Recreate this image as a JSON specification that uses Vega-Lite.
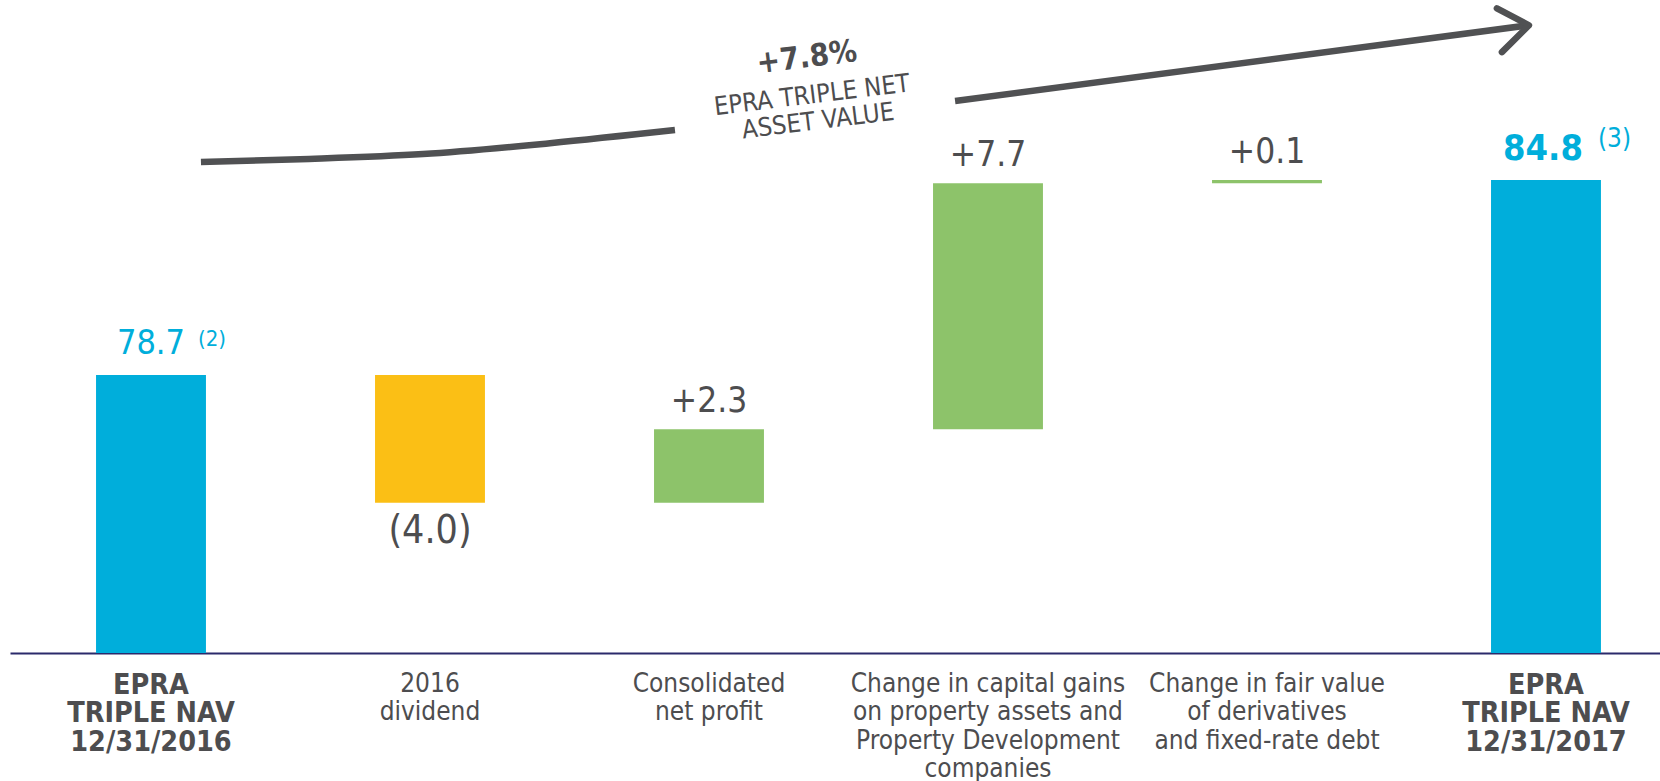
{
  "$schema": "https://vega.github.io/schema/vega-lite/v6.json",
  "width": 1650,
  "height": 653,
  "autosize": {"type": "none"},
  "padding": {"left": 10, "top": 0, "right": 0, "bottom": 128},
  "background": "white",
  "config": {"view": {"stroke": null}, "font": "Liberation Sans Narrow, DejaVu Sans Condensed, Roboto, sans-serif"},
  "datasets": {
    "bars": [
      {"cat": "EPRA|TRIPLE NAV|12/31/2016", "lo": 0, "hi": 78.7, "kind": "total", "lbl": "78.7", "sup": "(2)", "which": "first"},
      {"cat": "2016|dividend", "lo": 74.7, "hi": 78.7, "kind": "decrease", "lbl": "(4.0)", "sup": "", "which": "mid"},
      {"cat": "Consolidated|net profit", "lo": 74.7, "hi": 77.0, "kind": "increase", "lbl": "+2.3", "sup": "", "which": "mid"},
      {"cat": "Change in capital gains|on property assets and|Property Development|companies", "lo": 77.0, "hi": 84.7, "kind": "increase", "lbl": "+7.7", "sup": "", "which": "mid"},
      {"cat": "Change in fair value|of derivatives|and fixed-rate debt", "lo": 84.7, "hi": 84.8, "kind": "increase", "lbl": "+0.1", "sup": "", "which": "mid"},
      {"cat": "EPRA|TRIPLE NAV|12/31/2017", "lo": 0, "hi": 84.8, "kind": "total", "lbl": "84.8", "sup": "(3)", "which": "last"}
    ],
    "arrow": [
      {"seg": "a", "ord": 1, "ax": 0.179, "ay": 85.36},
      {"seg": "a", "ord": 2, "ax": 0.534, "ay": 85.45},
      {"seg": "a", "ord": 3, "ax": 0.975, "ay": 85.61},
      {"seg": "a", "ord": 4, "ax": 1.43, "ay": 85.95},
      {"seg": "a", "ord": 5, "ax": 1.878, "ay": 86.36},
      {"seg": "b", "ord": 1, "ax": 2.882, "ay": 87.27},
      {"seg": "b", "ord": 2, "ax": 4.939, "ay": 89.64},
      {"seg": "head", "ord": 1, "ax": 4.824, "ay": 90.17},
      {"seg": "head", "ord": 2, "ax": 4.939, "ay": 89.64},
      {"seg": "head", "ord": 3, "ax": 4.842, "ay": 88.8}
    ],
    "notes": [
      {"t": "+7.8%", "ax": 2.351, "ay": 88.61, "w": "bold"},
      {"t": "EPRA TRIPLE NET", "ax": 2.369, "ay": 87.45, "w": "normal"},
      {"t": "ASSET VALUE", "ax": 2.391, "ay": 86.64, "w": "normal"}
    ]
  },
  "layer": [
    {
      "data": {"name": "bars"},
      "encoding": {
        "x": {
          "field": "cat",
          "type": "nominal",
          "sort": null,
          "scale": {"paddingInner": 0.606, "paddingOuter": 0.26, "align": 0.593, "round": false},
          "axis": {
            "title": null,
            "ticks": false,
            "labelAngle": 0,
            "labelExpr": "split(datum.label, '|')",
            "labelBaseline": "top",
            "labelPadding": 17,
            "labelLimit": 0,
            "labelOverlap": false,
            "labelColor": "#4d4d4f",
            "labelFont": "Liberation Sans Narrow, DejaVu Sans Condensed, Roboto, sans-serif",
            "labelLineHeight": 28.5,
            "labelFontSize": {"condition": {"test": "indexof(datum.value, 'EPRA') === 0", "value": 28.5}, "value": 26},
            "labelFontWeight": {"condition": {"test": "indexof(datum.value, 'EPRA') === 0", "value": "bold"}, "value": "normal"},
            "domainColor": "#2b2a6b",
            "domainWidth": 2
          }
        },
        "y": {"field": "hi", "type": "quantitative", "scale": {"domain": [70, 90.43], "zero": false, "nice": false}, "axis": null}
      },
      "layer": [
        {
          "mark": {"type": "bar", "clip": true},
          "encoding": {
            "y": {"field": "lo", "type": "quantitative"},
            "y2": {"field": "hi"},
            "color": {"field": "kind", "type": "nominal", "scale": {"domain": ["total", "decrease", "increase"], "range": ["#00aedb", "#fbbf15", "#8dc36a"]}, "legend": null}
          }
        },
        {
          "transform": [{"filter": "datum.kind === 'increase'"}],
          "mark": {"type": "text", "align": "center", "baseline": "alphabetic", "dy": -17, "fontSize": 35, "color": "#4d4d4f"},
          "encoding": {"text": {"field": "lbl"}}
        },
        {
          "transform": [{"filter": "datum.kind === 'decrease'"}],
          "mark": {"type": "text", "align": "center", "baseline": "middle", "dy": 28, "fontSize": 39, "color": "#4d4d4f"},
          "encoding": {"y": {"field": "lo", "type": "quantitative"}, "text": {"field": "lbl"}}
        },
        {
          "transform": [{"filter": "datum.which === 'first'"}],
          "mark": {"type": "text", "align": "center", "baseline": "alphabetic", "dy": -21, "fontSize": 34, "color": "#00aedb"},
          "encoding": {"text": {"field": "lbl"}}
        },
        {
          "transform": [{"filter": "datum.which === 'first'"}],
          "mark": {"type": "text", "align": "left", "baseline": "alphabetic", "dx": 47, "dy": -29, "fontSize": 22, "color": "#00aedb"},
          "encoding": {"text": {"field": "sup"}}
        },
        {
          "transform": [{"filter": "datum.which === 'last'"}],
          "mark": {"type": "text", "align": "center", "baseline": "alphabetic", "dy": -20, "dx": -3, "fontSize": 36, "fontWeight": "bold", "color": "#00aedb"},
          "encoding": {"text": {"field": "lbl"}}
        },
        {
          "transform": [{"filter": "datum.which === 'last'"}],
          "mark": {"type": "text", "align": "left", "baseline": "alphabetic", "dx": 52, "dy": -33, "fontSize": 26, "color": "#00aedb"},
          "encoding": {"text": {"field": "sup"}}
        }
      ]
    },
    {
      "encoding": {
        "x": {"field": "ax", "type": "quantitative", "scale": {"domain": [-0.50538, 5.4086], "nice": false, "zero": false}, "axis": null},
        "y": {"field": "ay", "type": "quantitative"}
      },
      "layer": [
        {
          "data": {"name": "arrow"},
          "transform": [{"filter": "datum.seg !== 'head'"}],
          "mark": {"type": "line", "stroke": "#505153", "strokeWidth": 6.5, "strokeCap": "butt", "interpolate": "monotone"},
          "encoding": {"detail": {"field": "seg"}, "order": {"field": "ord"}}
        },
        {
          "data": {"name": "arrow"},
          "transform": [{"filter": "datum.seg === 'head'"}],
          "mark": {"type": "line", "stroke": "#505153", "strokeWidth": 6.5, "strokeCap": "round", "strokeJoin": "round"},
          "encoding": {"order": {"field": "ord"}}
        },
        {
          "data": {"name": "notes"},
          "transform": [{"filter": "datum.w === 'bold'"}],
          "mark": {"type": "text", "align": "center", "baseline": "middle", "angle": 353, "fontSize": 31, "fontWeight": "bold", "color": "#4d4d4f"},
          "encoding": {"text": {"field": "t"}}
        },
        {
          "data": {"name": "notes"},
          "transform": [{"filter": "datum.w === 'normal'"}],
          "mark": {"type": "text", "align": "center", "baseline": "middle", "angle": 353, "fontSize": 25.5, "color": "#4d4d4f"},
          "encoding": {"text": {"field": "t"}}
        }
      ]
    }
  ],
  "resolve": {"scale": {"x": "independent"}}
}
